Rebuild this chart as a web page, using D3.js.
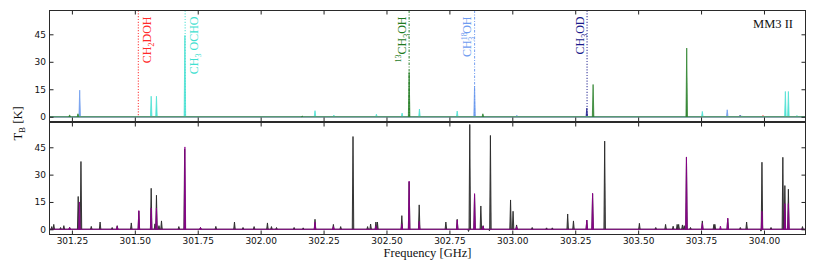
<!DOCTYPE html>
<html>
<head>
<meta charset="utf-8">
<script src="https://cdn.jsdelivr.net/npm/d3@7/dist/d3.min.js"></script>
<style>
  body { margin: 0; background: #fff; }
  svg text { font-family: "Liberation Serif", "Times New Roman", serif; }
  .tick text { font-family: "DejaVu Sans", sans-serif; font-size: 9px; fill: #111; }
  .tick line { stroke: #222; }
</style>
</head>
<body>
<svg id="chart" width="831" height="267"></svg>
<script>
// axis ticks
const freqTicks = [301.25, 301.5, 301.75, 302.0, 302.25, 302.5, 302.75, 303.0, 303.25, 303.5, 303.75, 304.0];
const tbTicks = [0, 15, 30, 45];

// top panel: modelled lines per species, [frequency GHz, T_B K]
const ch2dohPeaks = [[303.996, 0.7]];
const ch3odPeaks = [[303.296, 4.7], [303.905, 0.8]];
const ch3_18ohPeaks = [[301.281, 14.5], [302.850, 16.7], [303.018, 0.8], [303.854, 3.8]];
const ch3ochoPeaks = [[301.565, 11.2], [301.586, 11.2], [301.699, 44.4], [302.216, 3.3], [302.291, 0.9],
  [302.460, 1.4], [302.562, 2.0], [302.631, 4.2], [302.781, 3.1], [303.755, 2.9], [303.912, 0.5],
  [304.085, 13.8], [304.097, 13.8], [304.131, 0.7]];
const c13h3ohPeaks = [[301.241, 1.0], [301.274, 1.6], [302.165, 0.4], [302.590, 24.3], [302.883, 1.6],
  [303.321, 17.6], [303.693, 37.5]];

// labelled transitions in the top panel
const markerFreqs = [301.514, 301.700, 302.590, 302.850, 303.297];
const markerLabels = [
  [["CH", ""], ["2", "sub"], ["DOH", ""]],
  [["CH", ""], ["3", "sub"], [" OCHO", ""]],
  [["13", "sup"], ["CH", ""], ["3", "sub"], ["OH", ""]],
  [["CH", ""], ["18", "sup"], ["3", "sub"], [" OH", ""]],
  [["CH", ""], ["3", "sub"], ["OD", ""]]
];

// bottom panel: observed spectrum and full model
const observedPeaks = [[301.170, 1.5], [301.178, 2.7], [301.205, 1.0], [301.218, 2.0], [301.241, 1.0],
  [301.275, 18.0], [301.286, 37.2], [301.327, 1.6], [301.362, 4.0], [301.410, 1.0], [301.430, 2.0],
  [301.486, 3.5], [301.516, 10.0], [301.565, 22.5], [301.580, 3.0], [301.586, 18.7], [301.596, 2.0],
  [301.606, 4.6], [301.675, 1.5], [301.698, 44.0], [301.761, 1.0], [301.822, 1.6], [301.896, 4.0],
  [301.930, 1.0], [301.974, 1.5], [302.027, 3.5], [302.043, 1.5], [302.063, 1.0], [302.133, 1.0],
  [302.169, 0.8], [302.216, 5.5], [302.289, 2.7], [302.318, 1.5], [302.367, 50.9], [302.425, 1.5],
  [302.437, 2.9], [302.458, 4.0], [302.464, 4.0], [302.561, 7.5], [302.590, 26.0], [302.630, 13.4],
  [302.736, 4.0], [302.781, 5.5], [302.826, -1.2], [302.831, 57.5], [302.850, 19.0], [302.875, 12.8],
  [302.884, 2.0], [302.909, -0.8], [302.913, 51.5], [302.993, 16.1], [303.003, 9.9], [303.017, 2.4],
  [303.079, 1.0], [303.136, 0.8], [303.159, 0.8], [303.220, 8.4], [303.243, 4.6], [303.296, 5.0],
  [303.319, 19.5], [303.367, 48.4], [303.505, 3.3], [303.570, 1.0], [303.609, 2.7], [303.639, 1.7],
  [303.655, 2.7], [303.661, 2.7], [303.676, 2.4], [303.683, 2.0], [303.692, 39.5], [303.708, 1.0],
  [303.755, 4.6], [303.801, 2.7], [303.805, 2.7], [303.856, 5.9], [303.906, 1.0], [303.931, 4.0],
  [303.988, -1.0], [303.992, 36.8], [304.028, 1.0], [304.075, 39.5], [304.083, 24.0], [304.097, 22.0],
  [304.153, 1.5]];
const modelPeaks = [[301.241, 1.0], [301.280, 15.0], [301.430, 1.6], [301.516, 10.3], [301.565, 11.7],
  [301.586, 11.7], [301.699, 45.2], [301.761, 1.0], [302.216, 4.0], [302.289, 1.5], [302.458, 2.0],
  [302.561, 3.0], [302.590, 26.5], [302.630, 4.4], [302.781, 5.1], [302.850, 19.6], [302.884, 1.8],
  [303.017, 1.5], [303.296, 5.1], [303.319, 19.8], [303.692, 39.7], [303.755, 3.3], [303.827, 1.8],
  [303.856, 6.2], [303.992, 9.9], [304.083, 14.1], [304.097, 14.1]];

// ---- drawing ----
const svg = d3.select("#chart");
const left = 49.5, right = 805.5;
const topPanel = { y0: 10.5, y1: 121.5, domain: [-2.6, 58] };
const botPanel = { y0: 122.5, y1: 234.5, domain: [-2.85, 58.6] };
const halfWidth = 0.003;

const x = d3.scaleLinear().domain([301.161, 304.165]).range([left, right]);

const markerStyle = [
  { color: "#ff2a2a", side: 1, dash: "1.2,1.6" },
  { color: "#40e0d0", side: 1, dash: "1.2,1.6" },
  { color: "#1e7a1e", side: -1, dash: "2.5,1.5,1,1.5" },
  { color: "#6f9cf0", side: -1, dash: "2.5,1.5,1,1.5" },
  { color: "#1a1a8c", side: -1, dash: "1.2,1.6" }
];

function panel(p, showLabels) {
  const y = d3.scaleLinear().domain(p.domain).range([p.y1, p.y0]);
  const g = svg.append("g");
  g.append("defs").append("clipPath").attr("id", "clip" + p.y0)
    .append("rect").attr("x", left).attr("y", p.y0).attr("width", right - left).attr("height", p.y1 - p.y0);
  const plot = g.append("g").attr("clip-path", `url(#clip${p.y0})`);

  const axes = [
    d3.axisBottom(x).tickValues(freqTicks).tickSize(-4).tickSizeOuter(0).tickPadding(3.5)
      .tickFormat(showLabels ? d3.format(".2f") : ""),
    d3.axisTop(x).tickValues(freqTicks).tickSize(-4).tickSizeOuter(0).tickFormat(""),
    d3.axisLeft(y).tickValues(tbTicks).tickSize(-4).tickSizeOuter(0).tickPadding(3.5),
    d3.axisRight(y).tickValues(tbTicks).tickSize(-4).tickSizeOuter(0).tickFormat("")
  ];
  const pos = [`translate(0,${p.y1})`, `translate(0,${p.y0})`, `translate(${left},0)`, `translate(${right},0)`];
  axes.forEach((a, i) => {
    const ag = g.append("g").attr("transform", pos[i]).call(a);
    ag.select(".domain").remove();
  });

  g.append("rect").attr("x", left).attr("y", p.y0).attr("width", right - left).attr("height", p.y1 - p.y0)
    .attr("fill", "none").attr("stroke", "#2a2a2a").attr("stroke-width", 1);
  return { y, plot };
}

function drawSpectrum(plot, y, peaks, color, fill, width, opacity, baseColor) {
  const s = plot.append("g");
  s.append("line").attr("x1", x.range()[0]).attr("x2", x.range()[1])
    .attr("y1", y(0)).attr("y2", y(0)).attr("stroke", baseColor || color).attr("stroke-width", 1.1)
    .attr("opacity", baseColor ? 1 : opacity);
  const line = d3.line();
  s.append("g").attr("opacity", opacity).selectAll("path").data(peaks).join("path")
    .attr("d", d => line([[x(d[0] - halfWidth), y(0)], [x(d[0]), y(d[1])], [x(d[0] + halfWidth), y(0)]]))
    .attr("fill", fill).attr("stroke", color).attr("stroke-width", width).attr("stroke-linejoin", "round");
}

// top panel
const tp = panel(topPanel, false);
markerFreqs.forEach((f, i) => {
  tp.plot.append("line").attr("x1", x(f)).attr("x2", x(f)).attr("y1", topPanel.y0).attr("y2", tp.y(0))
    .attr("stroke", markerStyle[i].color).attr("stroke-width", 1.1)
    .attr("stroke-dasharray", markerStyle[i].dash).attr("opacity", 0.85);
});
drawSpectrum(tp.plot, tp.y, ch2dohPeaks, "#ff2a2a", "#ff2a2a", 0.8, 0.9);
drawSpectrum(tp.plot, tp.y, ch3odPeaks, "#1a1a8c", "#1a1a8c", 0.8, 0.9);
drawSpectrum(tp.plot, tp.y, ch3_18ohPeaks, "#6495ed", "#6495ed", 0.8, 0.9);
drawSpectrum(tp.plot, tp.y, ch3ochoPeaks, "#40e0d0", "#40e0d0", 0.8, 0.9);
drawSpectrum(tp.plot, tp.y, c13h3ohPeaks, "#1e7a1e", "#1e7a1e", 0.8, 0.9, "#5f8c56");

markerFreqs.forEach((f, i) => {
  const st = markerStyle[i];
  const bx = st.side > 0 ? x(f) + 13 : x(f) - 3.3;
  const t = svg.append("text").attr("transform", `translate(${bx},16.5) rotate(-90)`)
    .attr("text-anchor", "end").attr("font-size", "12px").attr("fill", st.color);
  markerLabels[i].forEach((seg, j) => {
    const prev = j > 0 ? markerLabels[i][j - 1][1] : "";
    const ts = t.append("tspan").text(seg[0]);
    let shift = 0;
    if (seg[1] === "sub") shift = 3;
    if (seg[1] === "sup") shift = -4.5;
    const prevShift = prev === "sub" ? 3 : prev === "sup" ? -4.5 : 0;
    ts.attr("dy", shift - prevShift);
    if (seg[1]) ts.attr("font-size", "8px");
    if (seg[1] === "sub" && prev === "sup") ts.attr("dx", -8.5);
  });
});

svg.append("text").attr("x", 793).attr("y", 27.5).attr("text-anchor", "end")
  .attr("font-size", "12.5px").attr("fill", "#111").text("MM3 II");

// bottom panel
const bp = panel(botPanel, true);
drawSpectrum(bp.plot, bp.y, observedPeaks, "#111", "#555", 0.9, 0.9);
drawSpectrum(bp.plot, bp.y, modelPeaks, "#8b008b", "#8b008b", 0.9, 0.95);

// axis titles
const yl = svg.append("text").attr("transform", "translate(21.5,123.5) rotate(-90)")
  .attr("text-anchor", "middle").attr("font-size", "12.5px").attr("fill", "#111");
yl.append("tspan").text("T");
yl.append("tspan").attr("dy", 3).attr("font-size", "9px").text("B");
yl.append("tspan").attr("dy", -3).text(" [K]");

svg.append("text").attr("x", 427.5).attr("y", 257).attr("text-anchor", "middle")
  .attr("font-size", "12.5px").attr("fill", "#111").text("Frequency [GHz]");
</script>
</body>
</html>
